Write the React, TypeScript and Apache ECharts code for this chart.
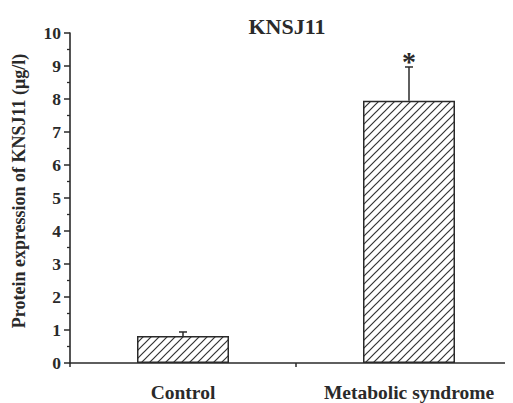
import React, { useEffect, useRef } from "react";
import * as echarts from "echarts";

const categories = ["Control", "Metabolic syndrome"];
const values = [0.82, 7.95];
const errors = [0.12, 1.02];
const marks = ["", "*"];
const yTicks = { min: 0, max: 10, interval: 1 };

const FONT = "'Liberation Serif', 'Times New Roman', serif";
const INK = "#2a2a2a";

function makeHatch(): HTMLCanvasElement {
  const s = 8;
  const c = document.createElement("canvas");
  c.width = s;
  c.height = s;
  const ctx = c.getContext("2d")!;
  ctx.fillStyle = "#ffffff";
  ctx.fillRect(0, 0, s, s);
  ctx.strokeStyle = "#333333";
  ctx.lineWidth = 1.2;
  ctx.beginPath();
  ctx.moveTo(-1, s + 1);
  ctx.lineTo(s + 1, -1);
  ctx.moveTo(-1, 1);
  ctx.lineTo(1, -1);
  ctx.moveTo(s - 1, s + 1);
  ctx.lineTo(s + 1, s - 1);
  ctx.stroke();
  return c;
}

export default function App() {
  const ref = useRef<HTMLDivElement>(null);
  useEffect(() => {
    if (!ref.current) return;
    const chart = echarts.init(ref.current, null, { renderer: "svg" });
    const hatch = makeHatch();
    const errData = categories.map((_, i) => [i, values[i], errors[i]]);
    chart.setOption({
      animation: false,
      backgroundColor: "#ffffff",
      title: {
        text: "KNSJ11",
        left: 282,
        top: 10,
        textAlign: "center",
        textStyle: { fontFamily: FONT, fontWeight: "bold", fontSize: 22, color: INK },
      },
      grid: { left: 70, right: 0, top: 33, bottom: 40, containLabel: false },
      xAxis: [
        {
          type: "category",
          data: categories,
          boundaryGap: true,
          axisLine: { lineStyle: { color: INK, width: 1.6 } },
          axisTick: { alignWithLabel: true, length: 7, lineStyle: { color: INK, width: 1.5 } },
          axisLabel: {
            margin: 19,
            fontFamily: FONT,
            fontWeight: "bold",
            fontSize: 19.5,
            color: INK,
          },
        },
        {
          type: "category",
          data: categories,
          boundaryGap: true,
          position: "bottom",
          axisLine: { show: false },
          axisTick: { show: true, length: 4, lineStyle: { color: INK, width: 1.5 } },
          axisLabel: { show: false },
        },
      ],
      yAxis: {
        type: "value",
        min: yTicks.min,
        max: yTicks.max,
        interval: yTicks.interval,
        name: "Protein expression of KNSJ11 (μg/l)",
        nameLocation: "middle",
        nameGap: 42,
        nameTextStyle: { fontFamily: FONT, fontWeight: "bold", fontSize: 18, color: INK, padding: [0, 0, 0, 14] },
        axisLine: { show: true, lineStyle: { color: INK, width: 1.6 } },
        axisTick: { show: true, length: 6, lineStyle: { color: INK, width: 1.5 } },
        minorTick: { show: true, splitNumber: 2, length: 3, lineStyle: { color: INK, width: 1.3 } },
        splitLine: { show: false },
        axisLabel: {
          margin: 9,
          fontFamily: FONT,
          fontWeight: "bold",
          fontSize: 17.5,
          color: INK,
        },
      },
      series: [
        {
          type: "bar",
          data: values,
          barWidth: 92,
          itemStyle: {
            color: { image: hatch, repeat: "repeat", imageWidth: 8, imageHeight: 8 },
            borderColor: "#2a2a2a",
            borderWidth: 1.5,
          },
          z: 2,
        },
        {
          type: "custom",
          data: errData,
          z: 3,
          renderItem: (params: any, api: any) => {
            const i = api.value(0);
            const v = api.value(1);
            const e = api.value(2);
            const base = api.coord([i, v]);
            const top = api.coord([i, v + e]);
            const half = 4;
            const children: any[] = [
              {
                type: "line",
                shape: { x1: base[0], y1: base[1], x2: top[0], y2: top[1] },
                style: { stroke: INK, lineWidth: 1.5 },
              },
              {
                type: "line",
                shape: { x1: top[0] - half, y1: top[1], x2: top[0] + half, y2: top[1] },
                style: { stroke: INK, lineWidth: 1.5 },
              },
            ];
            const m = marks[params.dataIndex];
            if (m) {
              children.push({
                type: "text",
                x: top[0],
                y: top[1] - 5,
                style: {
                  text: m,
                  fill: INK,
                  font: `bold 28px ${FONT}`,
                  align: "center",
                  verticalAlign: "middle",
                },
              });
            }
            return { type: "group", children };
          },
        },
      ],
    });
    return () => chart.dispose();
  }, []);
  return (
    <div style={{ width: 513, height: 403, marginTop: -8, marginLeft: -8, overflow: "hidden", background: "#fff" }}>
      <div ref={ref} style={{ width: 522, height: 403 }} />
    </div>
  );
}
